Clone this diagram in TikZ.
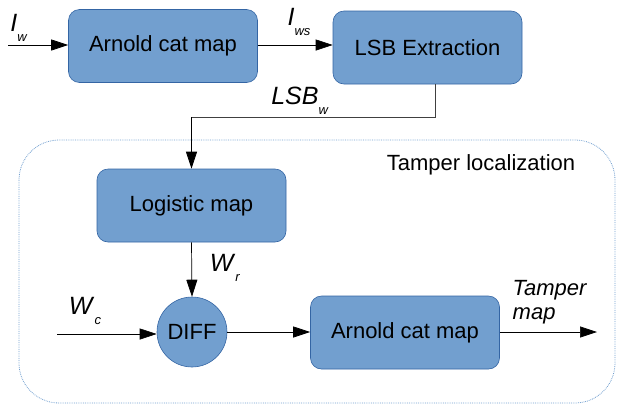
\documentclass[tikz,border=0pt]{standalone}
\usepackage{fontspec}
\setmainfont{Liberation Sans}
\usetikzlibrary{positioning, arrows.meta, shapes.geometric}
\definecolor{boxfill}{HTML}{729FCF}
\definecolor{boxline}{HTML}{3465A4}
\definecolor{dotline}{HTML}{729FCF}
\newcommand{\siglabel}[2]{{\fontsize{25}{25}\selectfont\textit{#1}}\raisebox{-10pt}{\fontsize{13}{13}\selectfont\textit{#2}}}

\begin{document}
\begin{tikzpicture}[x=1pt, y=-1pt,
    every node/.style={font=\fontsize{22}{26}\selectfont},
    block/.style={draw=boxline, fill=boxfill, rounded corners=11pt,
        minimum width=189pt, minimum height=73pt, line width=0.6pt},
    diffnode/.style={draw=boxline, fill=boxfill, circle,
        minimum size=70pt, inner sep=0pt, line width=0.6pt},
    flow/.style={-{Triangle[length=17pt, width=11pt]}, line width=0.7pt},
    wire/.style={line width=0.7pt, draw=black!75}]
            \useasboundingbox (0,0) rectangle (618,405);
            % tamper localization frame
            \draw[dotline, densely dotted, line width=0.8pt, rounded corners=40pt]
                (19,140) rectangle (615,403);
            \node (tl) at (481,165) {Tamper localization};

            \node[block] (acm) at (163,46) {Arnold cat map};
            \node[block] (lsb) at (427.5,47.5) {LSB Extraction};
            \node[block] (logi) at (191.5,205.5) {Logistic map};
            \node[diffnode] (diff) at (192,332) {DIFF};
            \node[block] (acmb) at (405,332.5) {Arnold cat map};

            \coordinate (iw) at (8,45);
            \coordinate (wc) at (57,334);
            \coordinate (tm) at (597,332);
            \coordinate (turn) at (435,117);

            \draw[flow] (iw) -- (acm.west |- iw);
            \draw[flow] (acm.east |- iw) -- (lsb.west |- iw);
            \draw[wire] (lsb.south -| turn) -- (turn) -- (logi.north |- turn);
            \draw[flow] (logi.north |- turn) -- (logi.north);
            \draw[flow] (logi.south) -- (diff.north);
            \draw[flow] (wc) -- (diff.west |- wc);
            \draw[flow] (diff.east) -- (acmb.west |- diff.east);
            \draw[flow] (acmb.east |- tm) -- (tm);

            \node (iwl) at (19,28) {\siglabel{I}{w}};
            \node (iwsl) at (299,22) {\siglabel{I}{ws}};
            \node (lsbl) at (300,101) {\siglabel{LSB}{w}};
            \node (wrl) at (225,268) {\siglabel{W}{r}};
            \node (wcl) at (85,311) {\siglabel{W}{c}};
            \node[align=left] (tml) at (550,302) {\textit{Tamper}\\[-2pt]\textit{map}};
        \end{tikzpicture}
\end{document}
